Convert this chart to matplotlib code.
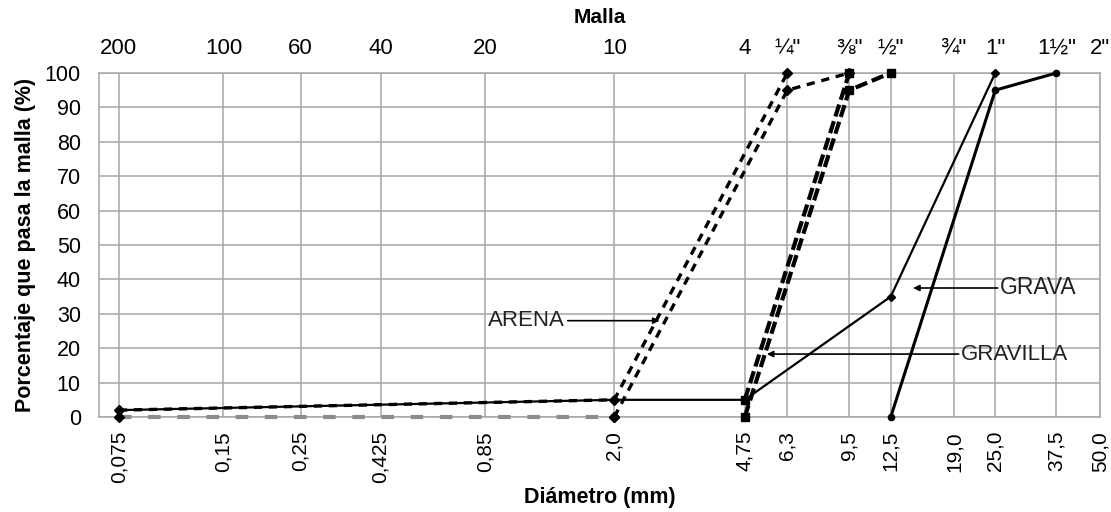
import matplotlib
matplotlib.use("Agg")
import matplotlib.pyplot as plt

plt.rcParams["font.family"] = ["Liberation Sans", "DejaVu Sans"]

# sieve sizes (mm) and their mesh names
diam = [0.075, 0.15, 0.25, 0.425, 0.85, 2.0, 4.75, 6.3, 9.5, 12.5, 19.0, 25.0, 37.5, 50.0]
diam_labels = ["0,075", "0,15", "0,25", "0,425", "0,85", "2,0", "4,75", "6,3",
               "9,5", "12,5", "19,0", "25,0", "37,5", "50,0"]
malla_labels = ["200", "100", "60", "40", "20", "10", "4", "¼\"", "⅜\"", "½\"",
                "¾\"", "1\"", "1½\"", "2\""]

# curves
arena_fino_x = [0.075, 2.0]
arena_fino_y = [0, 0]
arena1_x = [0.075, 2.0, 6.3]
arena1_y = [2, 5, 100]
arena2_x = [2.0, 6.3, 9.5]
arena2_y = [0, 95, 100]
gravilla1_x = [4.75, 9.5]
gravilla1_y = [5, 100]
gravilla2_x = [4.75, 9.5, 12.5]
gravilla2_y = [0, 95, 100]
grava1_x = [0.075, 2.0, 4.75, 12.5, 25.0]
grava1_y = [2, 5, 5, 35, 100]
grava2_x = [12.5, 25.0, 37.5]
grava2_y = [0, 95, 100]

fig = plt.figure(figsize=(11.11, 5.12), dpi=100)
ax = fig.add_axes([0.089, 0.1855, 0.901, 0.672])

grid_c = "#a6a6a6"

ax.plot(grava1_x, grava1_y, color="black", lw=1.6, marker="D", ms=4, zorder=3, clip_on=False)
ax.plot(grava2_x, grava2_y, color="black", lw=2.2, marker="o", ms=4.5, zorder=3, clip_on=False)
ax.plot(arena_fino_x, arena_fino_y, color="#8c8c8c", lw=3, dashes=(3, 4), zorder=3, clip_on=False)
ax.plot(arena_fino_x, arena_fino_y, color="black", lw=0, marker="D", ms=5, zorder=4, clip_on=False)
ax.plot(arena1_x, arena1_y, color="black", lw=2.4, dashes=(2.5, 2), marker="D", ms=5,
        zorder=4, clip_on=False)
ax.plot(arena2_x, arena2_y, color="black", lw=2.4, dashes=(2.5, 2), marker="D", ms=5,
        zorder=4, clip_on=False)
ax.plot(gravilla1_x, gravilla1_y, color="black", lw=3.0, dashes=(3, 1.2), marker="s", ms=6,
        zorder=4, clip_on=False)
ax.plot(gravilla2_x, gravilla2_y, color="black", lw=3.0, dashes=(3, 1.2), marker="s", ms=6,
        zorder=4, clip_on=False)

ax.set_xscale("log")
ax.set_xlim(0.0657, 50.0)
ax.set_ylim(0, 100)
ax.set_xticks(diam)
ax.set_xticklabels(diam_labels, rotation=90, fontsize=15)
ax.minorticks_off()
ax.set_yticks(range(0, 101, 10))
ax.tick_params(axis="y", labelsize=15.5, length=0, pad=13)
ax.tick_params(axis="x", length=0, pad=10)
ax.grid(True, color=grid_c, lw=1.1)
for s in ax.spines.values():
    s.set_color(grid_c)
    s.set_linewidth(1.1)

ax.set_xlabel("Diámetro (mm)", fontsize=15.5, fontweight="bold", labelpad=3)
ax.set_ylabel("Porcentaje que pasa la malla (%)", fontsize=15.5, fontweight="bold", labelpad=6)

# top axis: mesh names
top = ax.twiny()
top.set_xscale("log")
top.set_xlim(ax.get_xlim())
top.set_xticks(diam)
top.set_xticklabels(malla_labels, fontsize=16)
top.minorticks_off()
top.tick_params(axis="x", length=0, pad=10)
for s in top.spines.values():
    s.set_visible(False)
top.set_xlabel("Malla", fontsize=15, fontweight="bold", labelpad=11)

# labels with pointers
arrow = dict(arrowstyle="-|>", color="black", lw=1.2, mutation_scale=9, shrinkA=0, shrinkB=0)
ax.annotate("", xy=(2.70, 28), xytext=(1.47, 28), arrowprops=arrow)
ax.text(1.44, 28, "ARENA", fontsize=16, ha="right", va="center", color="#222222")
ax.annotate("", xy=(14.5, 37.5), xytext=(25.4, 37.5), arrowprops=arrow)
ax.text(25.7, 37.5, "GRAVA", fontsize=16.5, ha="left", va="center", color="#222222")
ax.annotate("", xy=(5.5, 18.3), xytext=(19.6, 18.3), arrowprops=arrow)
ax.text(19.9, 18.3, "GRAVILLA", fontsize=16, ha="left", va="center", color="#222222")

fig.savefig("out.png", dpi=100)
